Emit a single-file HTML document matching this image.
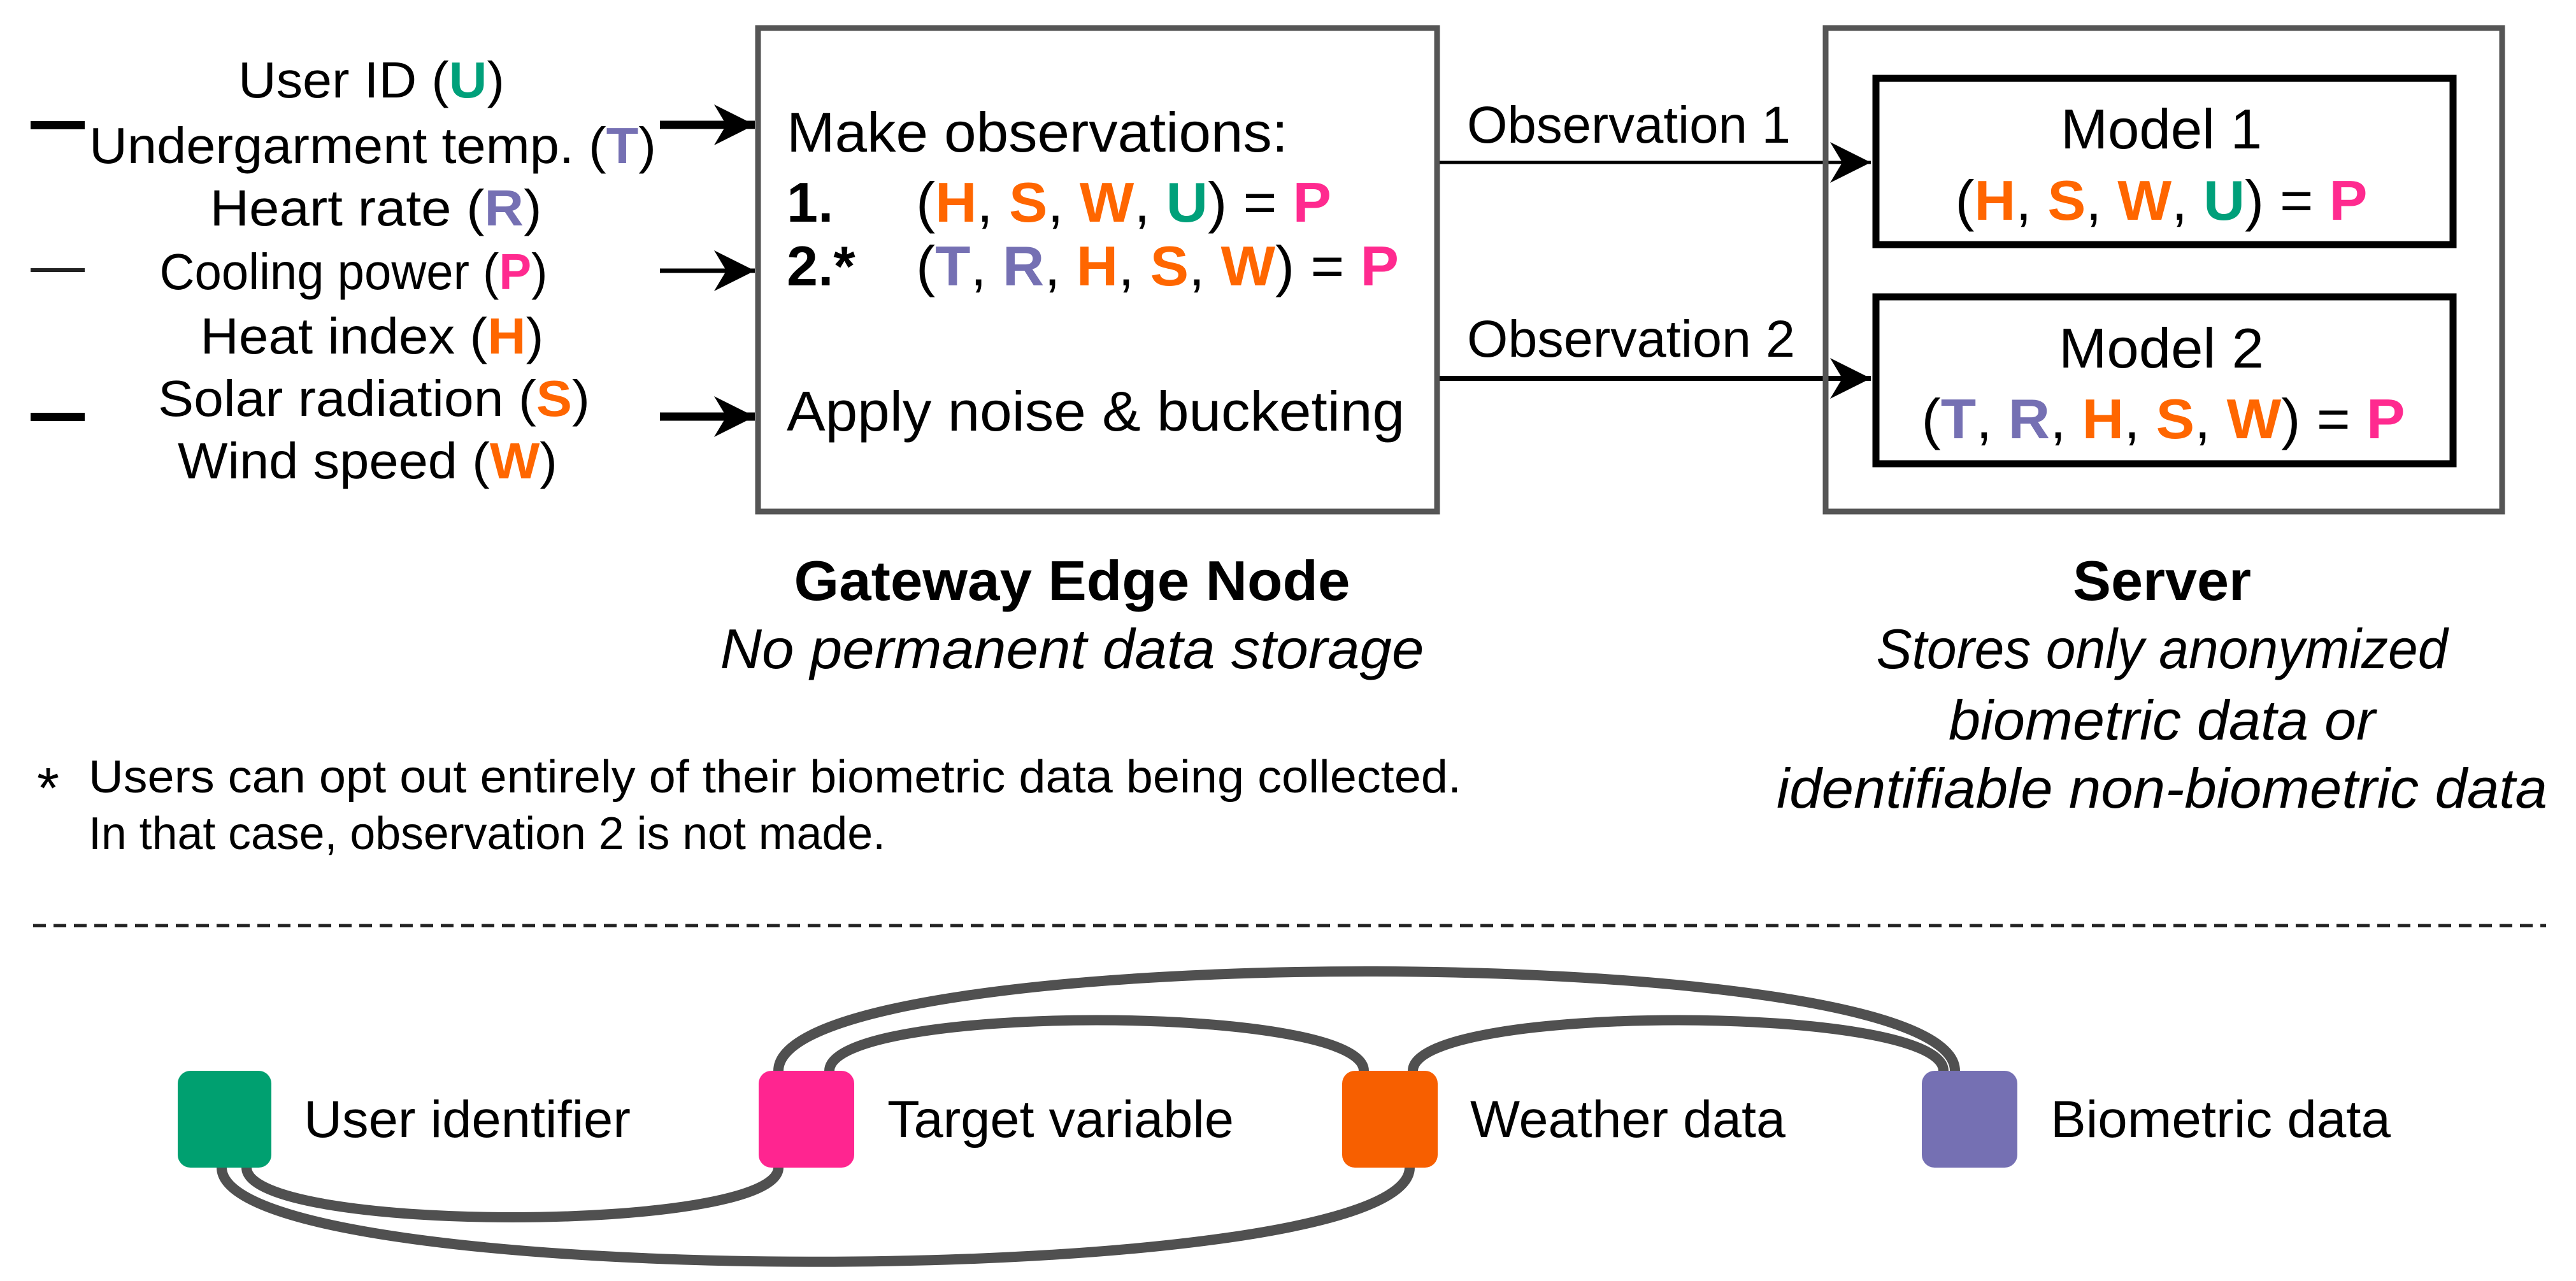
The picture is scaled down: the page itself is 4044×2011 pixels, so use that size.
<!DOCTYPE html>
<html><head><meta charset="utf-8"><style>
html,body{margin:0;padding:0;background:#fff}
svg{display:block}
text{font-family:"Liberation Sans",Arial,sans-serif}
.o{fill:#ff6600;font-weight:bold}.g{fill:#00a07a;font-weight:bold}.v{fill:#7570b3;font-weight:bold}.p{fill:#ff2a8f;font-weight:bold}
</style></head><body>
<svg width="4044" height="2011" viewBox="0 0 4044 2011" xmlns="http://www.w3.org/2000/svg">
<defs>
<marker id="ah" viewBox="0 0 10 10" refX="10" refY="5" markerUnits="userSpaceOnUse" markerWidth="64" markerHeight="70" orient="auto">
<path d="M0,0 L10,5 L0,10 L3,5 Z" fill="#000"/>
</marker>
</defs>
<rect width="4044" height="2011" fill="#fff"/>

<!-- Left labels -->
<g font-size="80" text-anchor="middle" fill="#000">
<text x="583" y="153" textLength="418" lengthAdjust="spacingAndGlyphs">User ID (<tspan class="g">U</tspan>)</text>
<text x="585" y="256" textLength="890" lengthAdjust="spacingAndGlyphs">Undergarment temp. (<tspan class="v">T</tspan>)</text>
<text x="590" y="354" textLength="521" lengthAdjust="spacingAndGlyphs">Heart rate (<tspan class="v">R</tspan>)</text>
<text x="555" y="454" textLength="609" lengthAdjust="spacingAndGlyphs">Cooling power (<tspan class="p">P</tspan>)</text>
<text x="584" y="555" textLength="539" lengthAdjust="spacingAndGlyphs">Heat index (<tspan class="o">H</tspan>)</text>
<text x="587" y="653" textLength="678" lengthAdjust="spacingAndGlyphs">Solar radiation (<tspan class="o">S</tspan>)</text>
<text x="577" y="751" textLength="596" lengthAdjust="spacingAndGlyphs">Wind speed (<tspan class="o">W</tspan>)</text>
</g>
<!-- stubs -->
<rect x="48" y="190" width="85" height="13" fill="#000"/>
<rect x="48" y="421" width="85" height="6" fill="#222"/>
<rect x="48" y="648" width="85" height="13" fill="#000"/>
<!-- arrows to gateway -->
<line x1="1036" y1="196" x2="1185" y2="196" stroke="#000" stroke-width="13" marker-end="url(#ah)"/>
<line x1="1036" y1="425" x2="1185" y2="425" stroke="#000" stroke-width="7" marker-end="url(#ah)"/>
<line x1="1036" y1="654" x2="1185" y2="654" stroke="#000" stroke-width="13" marker-end="url(#ah)"/>

<!-- Gateway box -->
<rect x="1190" y="44" width="1066" height="759" fill="none" stroke="#555" stroke-width="9"/>
<g font-size="88" fill="#000">
<text x="1235" y="238" textLength="787" lengthAdjust="spacingAndGlyphs">Make observations:</text>
<text x="1235" y="348" font-weight="bold">1.</text>
<text x="1438" y="348" textLength="652" lengthAdjust="spacingAndGlyphs">(<tspan class="o">H</tspan>, <tspan class="o">S</tspan>, <tspan class="o">W</tspan>, <tspan class="g">U</tspan>) = <tspan class="p">P</tspan></text>
<text x="1235" y="448" font-weight="bold">2.*</text>
<text x="1438" y="448" textLength="758" lengthAdjust="spacingAndGlyphs">(<tspan class="v">T</tspan>, <tspan class="v">R</tspan>, <tspan class="o">H</tspan>, <tspan class="o">S</tspan>, <tspan class="o">W</tspan>) = <tspan class="p">P</tspan></text>
<text x="1235" y="676" textLength="970" lengthAdjust="spacingAndGlyphs">Apply noise &amp; bucketing</text>
</g>
<g text-anchor="middle" fill="#000">
<text x="1683" y="942" font-size="88" font-weight="bold" textLength="873" lengthAdjust="spacingAndGlyphs">Gateway Edge Node</text>
<text x="1683" y="1049" font-size="88" font-style="italic" textLength="1105" lengthAdjust="spacingAndGlyphs">No permanent data storage</text>
</g>

<!-- Observation arrows -->
<text x="2303" y="224" font-size="82" fill="#000" textLength="508" lengthAdjust="spacingAndGlyphs">Observation 1</text>
<text x="2303" y="560" font-size="82" fill="#000" textLength="515" lengthAdjust="spacingAndGlyphs">Observation 2</text>
<line x1="2260" y1="255" x2="2937" y2="255" stroke="#000" stroke-width="5" marker-end="url(#ah)"/>
<line x1="2260" y1="594" x2="2937" y2="594" stroke="#000" stroke-width="8" marker-end="url(#ah)"/>

<!-- Server box -->
<rect x="2866" y="44" width="1062" height="759" fill="none" stroke="#555" stroke-width="9"/>
<rect x="2945" y="123" width="906" height="261" fill="none" stroke="#000" stroke-width="11"/>
<rect x="2945" y="466" width="906" height="262" fill="none" stroke="#000" stroke-width="11"/>
<g font-size="88" text-anchor="middle" fill="#000">
<text x="3393" y="233" textLength="316" lengthAdjust="spacingAndGlyphs">Model 1</text>
<text x="3393" y="345" textLength="647" lengthAdjust="spacingAndGlyphs">(<tspan class="o">H</tspan>, <tspan class="o">S</tspan>, <tspan class="o">W</tspan>, <tspan class="g">U</tspan>) = <tspan class="p">P</tspan></text>
<text x="3393" y="577" textLength="322" lengthAdjust="spacingAndGlyphs">Model 2</text>
<text x="3396" y="688" textLength="759" lengthAdjust="spacingAndGlyphs">(<tspan class="v">T</tspan>, <tspan class="v">R</tspan>, <tspan class="o">H</tspan>, <tspan class="o">S</tspan>, <tspan class="o">W</tspan>) = <tspan class="p">P</tspan></text>
</g>
<g text-anchor="middle" fill="#000" font-size="88">
<text x="3394" y="942" font-weight="bold" textLength="280" lengthAdjust="spacingAndGlyphs">Server</text>
<text x="3394" y="1049" font-style="italic" textLength="897" lengthAdjust="spacingAndGlyphs">Stores only anonymized</text>
<text x="3394" y="1161" font-style="italic" textLength="670" lengthAdjust="spacingAndGlyphs">biometric data or</text>
<text x="3394" y="1268" font-style="italic" textLength="1210" lengthAdjust="spacingAndGlyphs">identifiable non-biometric data</text>
</g>

<!-- footnote -->
<g fill="#000" font-size="72">
<text x="58" y="1268" font-size="90">*</text>
<text x="139" y="1244" textLength="2155" lengthAdjust="spacingAndGlyphs">Users can opt out entirely of their biometric data being collected.</text>
<text x="139" y="1333" textLength="1251" lengthAdjust="spacingAndGlyphs">In that case, observation 2 is not made.</text>
</g>

<!-- dashed separator -->
<line x1="52" y1="1453" x2="3997" y2="1453" stroke="#222" stroke-width="5" stroke-dasharray="20 12"/>

<!-- arcs -->
<g fill="none" stroke="#505050" stroke-width="16">
<path d="M1222 1681 C1222 1473 3069 1473 3069 1681"/>
<path d="M1302 1681 C1302 1575 2141 1575 2141 1681"/>
<path d="M2218 1681 C2218 1575 3051 1575 3051 1681"/>
<path d="M387 1833 C387 1937 1222 1937 1222 1833"/>
<path d="M348 1833 C348 2030 2213 2030 2213 1833"/>
</g>

<!-- legend squares -->
<rect x="279" y="1681" width="147" height="152" rx="20" fill="#00a070"/>
<rect x="1191" y="1681" width="150" height="152" rx="20" fill="#ff2590"/>
<rect x="2107" y="1681" width="150" height="152" rx="20" fill="#f75f00"/>
<rect x="3017" y="1681" width="150" height="152" rx="20" fill="#7570b3"/>
<g font-size="82" fill="#000">
<text x="477" y="1785" textLength="513" lengthAdjust="spacingAndGlyphs">User identifier</text>
<text x="1393" y="1785" textLength="544" lengthAdjust="spacingAndGlyphs">Target variable</text>
<text x="2308" y="1785" textLength="495" lengthAdjust="spacingAndGlyphs">Weather data</text>
<text x="3219" y="1785" textLength="534" lengthAdjust="spacingAndGlyphs">Biometric data</text>
</g>
</svg>
</body></html>
